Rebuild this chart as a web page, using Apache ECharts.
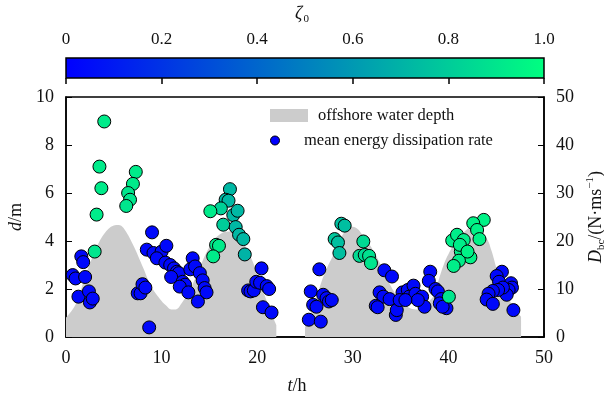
<!DOCTYPE html>
<html>
<head>
<meta charset="utf-8">
<script src="https://cdn.jsdelivr.net/npm/echarts@6/dist/echarts.min.js"></script>
<style>
  html, body { margin: 0; padding: 0; background: #fff; }
  #chart { width: 604px; height: 400px; }
</style>
</head>
<body>
<div id="chart"></div>
<script>
// Offshore water depth d (m) over time t (h), two recorded stretches
const depthHoursA = [0, 1, 2, 3, 4, 5, 5.5, 6, 7, 8, 9, 10, 10.5, 11, 11.5, 12, 13, 14, 15, 16, 17, 17.5, 18, 19, 20, 21, 22];
const depthA      = [0.8, 1.35, 2.5, 3.55, 4.3, 4.65, 4.67, 4.55, 3.85, 2.95, 2.05, 1.5, 1.3, 1.15, 1.15, 1.35, 2.0, 2.9, 3.75, 4.25, 4.4, 4.4, 4.2, 3.6, 2.65, 1.5, 0.5];
const depthHoursB = [25, 26, 27, 28, 29, 29.8, 30.5, 31, 32, 33, 34, 35, 36, 36.8, 37.5, 38, 38.5, 39, 39.5, 40, 41, 42, 42.5, 43, 44, 44.5, 45, 45.5, 46, 46.5, 47, 47.6];
const depthB      = [0.4, 1.4, 2.6, 3.45, 4.3, 4.6, 4.5, 4.25, 3.7, 2.95, 2.1, 1.5, 1.2, 1.15, 1.3, 1.5, 1.75, 2.4, 3.0, 3.45, 4.1, 4.5, 4.6, 4.5, 4.1, 3.6, 2.9, 2.25, 1.8, 1.45, 1.15, 0.85];

// Mean energy dissipation rate D_bc (N·ms⁻¹) with its ζ0 value
const hours = [
  4.0, 3.5, 3.7, 3.2, 3.0, 7.3, 7.0, 6.5, 6.7, 6.3,
  1.6, 1.8, 0.7, 1.0, 2.0, 1.3, 2.4, 2.5, 2.8,
  9.0, 7.5, 7.8, 8.0, 8.3, 8.7, 8.45, 9.15, 9.85, 10.0, 10.5, 9.5, 10.4, 10.9, 11.3, 11.6, 11.8, 11.0, 12.2, 12.45, 11.9, 12.8,
  13.25, 13.0, 13.5, 14.0, 14.3, 14.5, 14.7, 13.8,
  17.15, 16.7, 17.0, 16.2, 15.1, 17.5, 17.95, 16.45, 17.75, 18.1, 18.55, 18.7, 15.7, 16.0, 15.4,
  20.45, 19.05, 19.3, 19.65, 19.9, 20.3, 21.0, 21.25, 20.6, 21.5,
  26.5, 25.6, 25.85, 26.2, 25.4, 26.65, 26.9, 27.25, 27.5, 27.8,
  28.8, 29.15, 28.1, 28.45, 28.6,
  31.1, 30.7, 31.25, 31.7, 31.9,
  33.3, 34.1, 32.8, 33.2, 33.85, 32.4, 32.6, 34.5, 34.6, 35.2, 35.75, 36.35, 35.9, 36.55, 37.25, 37.5, 36.8, 34.9, 35.5,
  38.1, 37.95, 38.65, 38.9, 39.25, 39.8, 39.1, 39.4, 40.05,
  43.7, 42.6, 43.0, 43.25, 40.4, 40.9, 41.6, 41.3, 42.3, 41.1, 40.55, 41.2, 42.0,
  45.6, 45.05, 45.3, 46.55, 46.65, 46.3, 46.1, 45.7, 45.2, 44.65, 44.2, 44.0, 44.65, 46.8
];
const dissipation = [
  44.9, 35.5, 31.0, 25.5, 17.8, 34.4, 31.9, 30.0, 28.6, 27.3,
  16.8, 15.6, 12.9, 12.2, 12.5, 8.4, 9.5, 7.2, 8.0,
  21.8, 9.1, 9.1, 11.0, 10.3, 2.0, 18.2, 17.5, 16.8, 17.8, 19.0, 16.4, 15.5, 15.0, 14.3, 13.6, 13.3, 12.5, 11.5, 10.9, 10.5, 9.3,
  16.4, 14.1, 14.7, 13.3, 11.8, 10.2, 9.3, 7.4,
  30.8, 28.6, 28.4, 26.8, 26.2, 25.4, 26.3, 23.4, 22.9, 21.3, 20.4, 17.2, 19.2, 19.0, 16.8,
  14.3, 9.7, 9.5, 9.7, 11.5, 11.3, 10.6, 10.0, 6.2, 5.1,
  14.1, 9.5, 6.7, 6.3, 3.6, 3.2, 8.8, 8.1, 7.4, 7.7,
  23.6, 23.2, 20.4, 19.7, 17.5,
  19.9, 16.9, 17.1, 16.9, 15.4,
  13.9, 12.6, 9.3, 8.4, 7.9, 6.5, 6.2, 4.6, 5.6, 9.3, 9.8, 10.7, 8.4, 9.0, 8.4, 6.3, 7.7, 7.7, 7.7,
  13.6, 11.7, 10.0, 9.5, 7.9, 6.0, 7.0, 6.3, 8.4,
  24.4, 23.7, 22.3, 20.4, 20.1, 21.3, 20.2, 17.8, 16.6, 15.9, 14.8, 19.2, 17.8,
  13.6, 12.7, 11.5, 11.2, 10.3, 9.8, 8.8, 10.3, 9.8, 9.6, 9.0, 7.8, 6.9, 5.6
];
const zeta = [
  0.92, 0.92, 0.92, 0.92, 0.9, 0.92, 0.92, 0.9, 0.9, 0.9,
  0.03, 0.03, 0.03, 0.03, 0.03, 0.03, 0.03, 0.03, 0.03,
  0.03, 0.03, 0.03, 0.03, 0.03, 0.03, 0.03, 0.03, 0.03, 0.03, 0.03, 0.03, 0.03, 0.03, 0.03, 0.03, 0.03, 0.03, 0.03, 0.03, 0.03, 0.03,
  0.03, 0.03, 0.03, 0.03, 0.03, 0.03, 0.03, 0.03,
  0.72, 0.72, 0.72, 0.82, 0.92, 0.72, 0.72, 0.8, 0.72, 0.72, 0.72, 0.7, 0.92, 0.92, 0.92,
  0.03, 0.03, 0.03, 0.03, 0.03, 0.03, 0.03, 0.03, 0.03, 0.03,
  0.03, 0.03, 0.03, 0.03, 0.03, 0.03, 0.03, 0.03, 0.03, 0.03,
  0.75, 0.75, 0.78, 0.75, 0.75,
  0.85, 0.85, 0.85, 0.88, 0.9,
  0.03, 0.03, 0.03, 0.03, 0.03, 0.03, 0.03, 0.03, 0.03, 0.03, 0.03, 0.03, 0.03, 0.03, 0.03, 0.03, 0.03, 0.03, 0.03,
  0.03, 0.03, 0.03, 0.03, 0.03, 0.03, 0.03, 0.03, 0.9,
  0.95, 0.95, 0.95, 0.95, 0.93, 0.93, 0.93, 0.93, 0.95, 0.93, 0.93, 0.93, 0.95,
  0.03, 0.03, 0.03, 0.03, 0.03, 0.03, 0.03, 0.03, 0.03, 0.03, 0.03, 0.03, 0.03, 0.03
];

// Axis ticks
const timeTicks = [0, 10, 20, 30, 40, 50];
const depthTicks = [0, 2, 4, 6, 8, 10];
const dissipationTicks = [0, 10, 20, 30, 40, 50];
const zetaTicks = [0, 0.2, 0.4, 0.6, 0.8, 1.0];

const FONT = 'Liberation Serif';
const INK = '#111';
const LOW = '#0000ff';
const HIGH = '#00ff80';

const chart = echarts.init(document.getElementById('chart'), null, { renderer: 'canvas' });

const step = a => a[1] - a[0];
const scatterData = hours.map((t, i) => [t, dissipation[i], zeta[i]]);

chart.setOption({
  animation: false,
  backgroundColor: '#fff',
  title: {
    text: '{z|ζ}{s|0}',
    left: 'center',
    top: 3,
    padding: [0, 0, 0, 0],
    textStyle: {
      rich: {
        z: { fontFamily: FONT, fontStyle: 'italic', fontWeight: 'normal', fontSize: 18, color: INK, lineHeight: 22, verticalAlign: 'middle' },
        s: { fontFamily: FONT, fontWeight: 'normal', fontSize: 11, color: INK, lineHeight: 22, verticalAlign: 'bottom', padding: [0, 0, 0, 1] }
      }
    }
  },
  grid: [
    { left: 66, right: 60, top: 97, bottom: 63, outerBoundsMode: 'none', containLabel: false, show: true, borderColor: '#000', borderWidth: 1.5, backgroundColor: 'transparent' },
    { left: 66, right: 60, top: 58, height: 20, outerBoundsMode: 'none', containLabel: false, show: true, borderColor: '#000', borderWidth: 1.5, backgroundColor: 'transparent', z: 5 }
  ],
  legend: [
    {
      data: [{ name: 'offshore water depth', icon: 'rect', itemStyle: { color: '#cccccc', borderWidth: 0 } }],
      left: 270, top: 107, itemWidth: 38, itemHeight: 13, padding: 0,
      selectedMode: false,
      textStyle: { fontFamily: FONT, fontSize: 16.5, color: INK, padding: [0, 0, 0, 5] }
    },
    {
      data: [{ name: 'mean energy dissipation rate', icon: 'circle', itemStyle: { color: LOW, borderColor: '#000', borderWidth: 1 } }],
      left: 270, top: 132, itemWidth: 38, itemHeight: 9, padding: 0,
      selectedMode: false,
      textStyle: { fontFamily: FONT, fontSize: 16.5, color: INK, padding: [0, 0, 0, 5] }
    }
  ],
  visualMap: {
    type: 'continuous',
    show: false,
    seriesIndex: 2,
    dimension: 2,
    min: zetaTicks[0],
    max: zetaTicks[zetaTicks.length - 1],
    inRange: { color: [LOW, HIGH] }
  },
  xAxis: [
    {
      gridIndex: 0,
      type: 'value',
      min: timeTicks[0], max: timeTicks[timeTicks.length - 1], interval: step(timeTicks),
      name: '{i|t}{n|/h}',
      nameLocation: 'middle',
      nameGap: 40,
      nameTextStyle: {
        padding: [0, 16, 0, 0],
        rich: {
          i: { fontFamily: FONT, fontStyle: 'italic', fontSize: 18, color: INK },
          n: { fontFamily: FONT, fontSize: 18, color: INK }
        }
      },
      axisLine: { show: true, lineStyle: { color: '#000', width: 1.5 } },
      axisTick: { show: true, inside: true, length: 4, lineStyle: { color: '#000', width: 1 } },
      axisLabel: { fontFamily: FONT, fontSize: 18, color: INK, margin: 12 },
      splitLine: { show: false }
    },
    {
      gridIndex: 1,
      type: 'value',
      position: 'top',
      min: zetaTicks[0], max: zetaTicks[zetaTicks.length - 1], interval: 0.2,
      axisLine: { show: false },
      axisTick: { show: true, inside: true, length: 6, lineStyle: { color: '#000', width: 1.5 } },
      axisLabel: {
        fontFamily: FONT, fontSize: 17, color: INK, margin: 10,
        formatter: v => (v === 0 ? '0' : v.toFixed(1))
      },
      splitLine: { show: false }
    }
  ],
  yAxis: [
    {
      gridIndex: 0,
      type: 'value',
      min: depthTicks[0], max: depthTicks[depthTicks.length - 1], interval: step(depthTicks),
      name: '{i|d}{n|/m}',
      nameLocation: 'middle',
      nameRotate: 90,
      nameGap: 36,
      nameTextStyle: {
        rich: {
          i: { fontFamily: FONT, fontStyle: 'italic', fontSize: 18, color: INK },
          n: { fontFamily: FONT, fontSize: 18, color: INK }
        }
      },
      axisLine: { show: true, lineStyle: { color: '#000', width: 1.5 } },
      axisTick: { show: true, inside: true, length: 6, lineStyle: { color: '#000', width: 1 } },
      axisLabel: { fontFamily: FONT, fontSize: 18, color: INK, margin: 12 },
      splitLine: { show: false }
    },
    {
      gridIndex: 0,
      type: 'value',
      position: 'right',
      min: dissipationTicks[0], max: dissipationTicks[dissipationTicks.length - 1], interval: step(dissipationTicks),
      name: '{i|D}{sub|bc}{n|/(N·ms}{sup|−1}{n|)}',
      nameLocation: 'middle',
      nameRotate: 90,
      nameGap: 36,
      nameTextStyle: {
        rich: {
          i: { fontFamily: FONT, fontStyle: 'italic', fontSize: 18, color: INK, lineHeight: 22, verticalAlign: 'middle' },
          sub: { fontFamily: FONT, fontSize: 11, color: INK, lineHeight: 22, verticalAlign: 'bottom' },
          n: { fontFamily: FONT, fontSize: 18, color: INK, lineHeight: 22, verticalAlign: 'middle' },
          sup: { fontFamily: FONT, fontSize: 11, color: INK, lineHeight: 22, verticalAlign: 'top' }
        }
      },
      axisLine: { show: true, lineStyle: { color: '#000', width: 1.5 } },
      axisTick: { show: true, inside: true, length: 6, lineStyle: { color: '#000', width: 1 } },
      axisLabel: { fontFamily: FONT, fontSize: 18, color: INK, margin: 12 },
      splitLine: { show: false }
    },
    {
      gridIndex: 1,
      type: 'value',
      min: 0, max: 1,
      show: false
    }
  ],
  series: [
    {
      name: 'offshore water depth',
      type: 'line',
      xAxisIndex: 0, yAxisIndex: 0,
      data: depthHoursA.map((t, i) => [t, depthA[i]]),
      smooth: 0.4,
      showSymbol: false,
      symbol: 'none',
      lineStyle: { width: 0, color: '#cccccc' },
      itemStyle: { color: '#cccccc' },
      areaStyle: { color: '#cccccc', opacity: 1 },
      silent: true,
      z: 1
    },
    {
      name: 'offshore water depth',
      type: 'line',
      xAxisIndex: 0, yAxisIndex: 0,
      data: depthHoursB.map((t, i) => [t, depthB[i]]),
      smooth: 0.4,
      showSymbol: false,
      symbol: 'none',
      lineStyle: { width: 0, color: '#cccccc' },
      itemStyle: { color: '#cccccc' },
      areaStyle: { color: '#cccccc', opacity: 1 },
      silent: true,
      z: 1
    },
    {
      name: 'mean energy dissipation rate',
      type: 'scatter',
      xAxisIndex: 0, yAxisIndex: 1,
      data: scatterData,
      symbol: 'circle',
      symbolSize: 13,
      itemStyle: { color: LOW, borderColor: '#000', borderWidth: 1, opacity: 1 },
      z: 3
    },
    {
      // colour bar for ζ0
      type: 'custom',
      xAxisIndex: 1, yAxisIndex: 2,
      data: [[zetaTicks[0], zetaTicks[zetaTicks.length - 1]]],
      silent: true,
      renderItem: (params, api) => {
        const p0 = api.coord([api.value(0), 1]);
        const p1 = api.coord([api.value(1), 0]);
        return {
          type: 'rect',
          shape: { x: p0[0], y: p0[1], width: p1[0] - p0[0], height: p1[1] - p0[1] },
          style: {
            fill: new echarts.graphic.LinearGradient(0, 0, 1, 0, [
              { offset: 0, color: LOW },
              { offset: 1, color: HIGH }
            ])
          }
        };
      },
      z: 1
    }
  ]
});
</script>
</body>
</html>
